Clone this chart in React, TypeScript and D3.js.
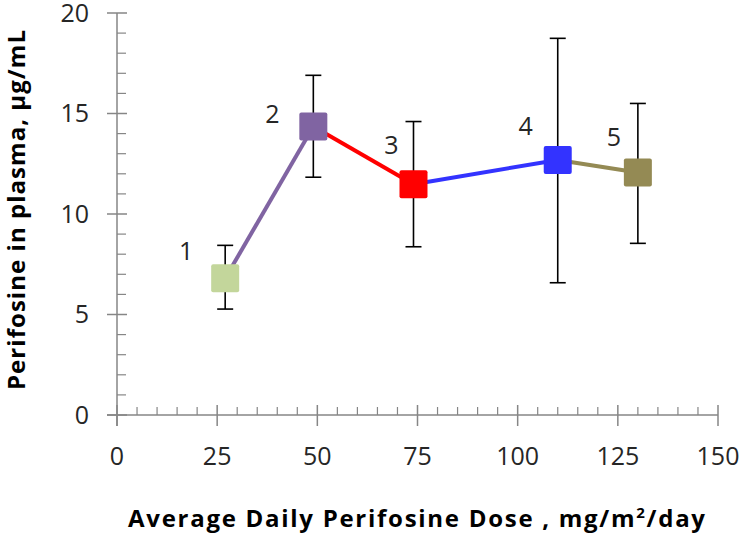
import React from "react";
import * as d3 from "d3";

const doses = [27, 49, 74, 110, 130];
const means = [6.8, 14.35, 11.48, 12.69, 12.06];
const upper = [8.44, 16.9, 14.6, 18.74, 15.5];
const lower = [5.27, 11.83, 8.37, 6.58, 8.54];
const pointLabels = ["1", "2", "3", "4", "5"];
const colors = ["#C3D69B", "#8064A2", "#FF0000", "#3333FF", "#948A54"];
const xTicks = [0, 25, 50, 75, 100, 125, 150];
const yTicks = [0, 5, 10, 15, 20];
const labelOffsets: [number, number][] = [[-39, -27], [-41, -12], [-22, -39], [-32, -34], [-24, -35]];

const W = 748, H = 535;

export default function App() {
  const x = d3.scaleLinear().domain([0, 150]).range([117, 718]);
  const y = d3.scaleLinear().domain([0, 20]).range([415, 13]);
  const axisColor = "#868686";
  const font = "'Open Sans', sans-serif";
  const xMinor = d3.range(0, 151, 5).filter((v) => v % 25 !== 0);
  const yMinor = d3.range(0, 21, 1).filter((v) => v % 5 !== 0);
  const line = d3.line<number>().x((i) => x(doses[i])).y((i) => y(means[i]));
  const ms = 28;

  return (
    <svg width={W} height={H} style={{ position: "absolute", left: 0, top: 0, background: "#fff" }}>
      {/* axes */}
      <line x1={x(0)} x2={x(0)} y1={y(20)} y2={y(0) + 11} stroke={axisColor} strokeWidth={1.5} />
      <line x1={x(0) - 10} x2={x(150)} y1={y(0)} y2={y(0)} stroke={axisColor} strokeWidth={1.5} />
      {yTicks.map((t) => (
        <line key={"yt" + t} x1={x(0) - 10} x2={x(0) + 10} y1={y(t)} y2={y(t)} stroke={axisColor} strokeWidth={1.5} />
      ))}
      {yMinor.map((t) => (
        <line key={"ym" + t} x1={x(0)} x2={x(0) + 9} y1={y(t)} y2={y(t)} stroke={axisColor} strokeWidth={1.2} />
      ))}
      {xTicks.map((t) => (
        <line key={"xt" + t} x1={x(t)} x2={x(t)} y1={y(0) - 10} y2={y(0) + 11} stroke={axisColor} strokeWidth={1.5} />
      ))}
      {xMinor.map((t) => (
        <line key={"xm" + t} x1={x(t)} x2={x(t)} y1={y(0) - 8} y2={y(0)} stroke={axisColor} strokeWidth={1.2} />
      ))}
      {/* tick labels */}
      {yTicks.map((t) => (
        <text key={"yl" + t} x={89} y={y(t)} dy="0.35em" textAnchor="end" fontFamily={font} fontSize={25} fill="#262626">
          {t}
        </text>
      ))}
      {xTicks.map((t) => (
        <text key={"xl" + t} x={x(t)} y={456} dy="0.35em" textAnchor="middle" fontFamily={font} fontSize={25} fill="#262626">
          {t}
        </text>
      ))}
      {/* axis titles */}
      <text
        x={128}
        y={527}
        textLength={577}
        lengthAdjust="spacing"
        fontFamily={font}
        fontWeight="bold"
        fontSize={24}
        fill="#000"
      >
        Average Daily Perifosine Dose , mg/m<tspan dy={-9} fontSize={15}>2</tspan>
        <tspan dy={9}>/day</tspan>
      </text>
      <text
        transform={`translate(25,210) rotate(-90)`}
        textAnchor="middle"
        textLength={360}
        lengthAdjust="spacing"
        fontFamily={font}
        fontWeight="bold"
        fontSize={24}
        fill="#000"
      >
        Perifosine in plasma, µg/mL
      </text>
      {/* connecting lines */}
      {doses.slice(1).map((_, k) => (
        <path key={"seg" + k} d={line([k, k + 1]) || ""} stroke={colors[k + 1]} strokeWidth={4} fill="none" />
      ))}
      {/* error bars */}
      {doses.map((d, i) => (
        <g key={"eb" + i} stroke="#000" strokeWidth={1.6}>
          <line x1={x(d)} x2={x(d)} y1={y(upper[i])} y2={y(lower[i])} />
          <line x1={x(d) - 8} x2={x(d) + 8} y1={y(upper[i])} y2={y(upper[i])} />
          <line x1={x(d) - 8} x2={x(d) + 8} y1={y(lower[i])} y2={y(lower[i])} />
        </g>
      ))}
      {/* markers */}
      {doses.map((d, i) => (
        <rect key={"m" + i} x={x(d) - ms / 2} y={y(means[i]) - ms / 2} width={ms} height={ms} rx={2} fill={colors[i]} />
      ))}
      {/* point labels */}
      {doses.map((d, i) => (
        <text
          key={"pl" + i}
          x={x(d) + labelOffsets[i][0]}
          y={y(means[i]) + labelOffsets[i][1]}
          dy="0.35em"
          textAnchor="middle"
          fontFamily={font}
          fontSize={25}
          fill="#262626"
        >
          {pointLabels[i]}
        </text>
      ))}
    </svg>
  );
}
